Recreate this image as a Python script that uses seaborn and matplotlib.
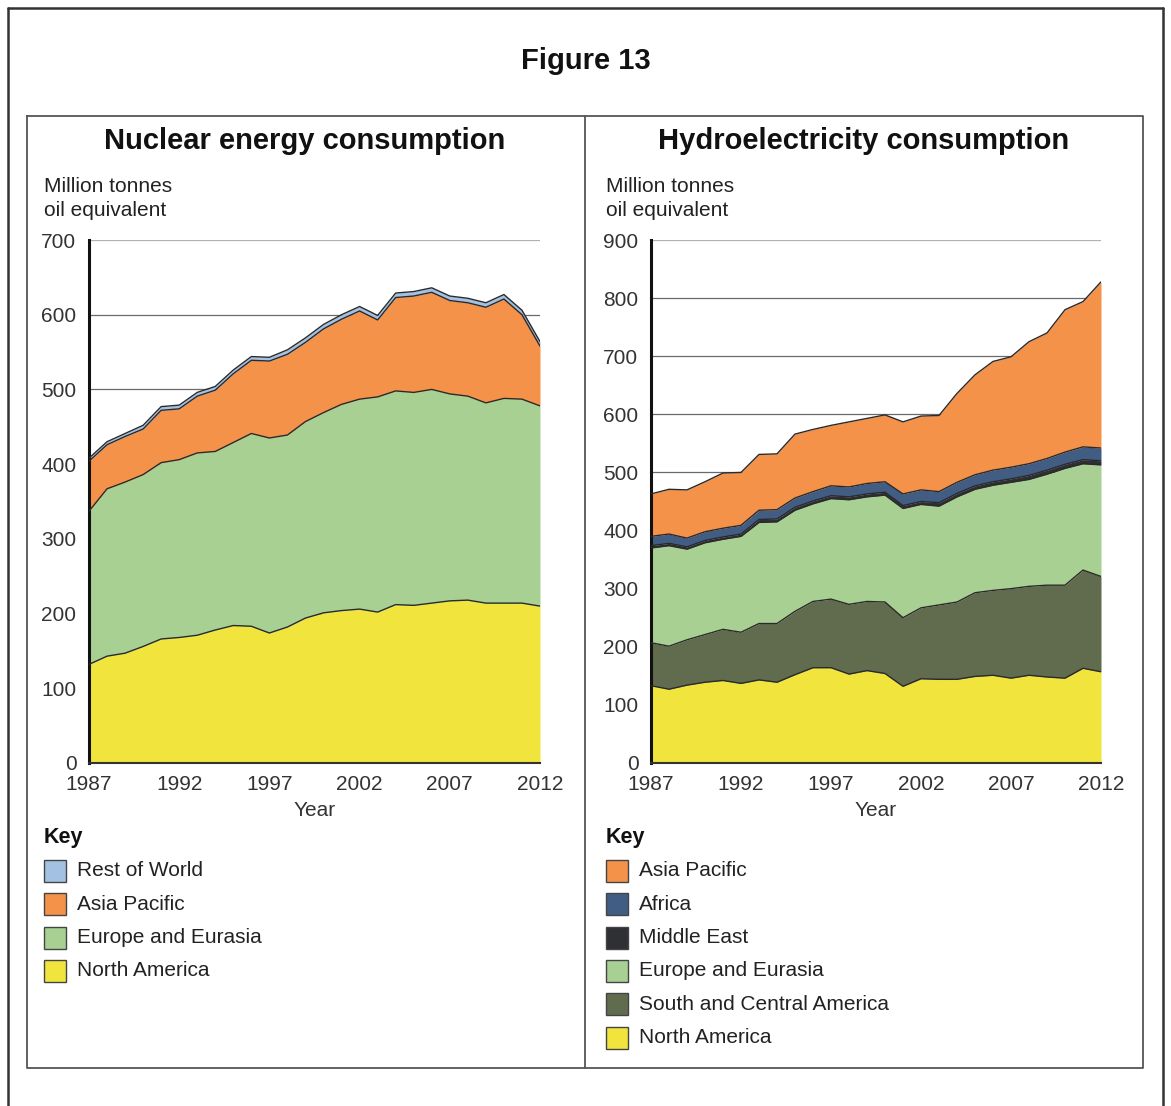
"""
Figure 13 - nuclear and hydroelectricity consumption by region, 1987-2012.
Two stacked area charts side by side, with a hand-placed key under each.
"""

import numpy as np
import pandas as pd
import matplotlib
matplotlib.use('Agg')
import matplotlib.pyplot as plt
import seaborn as sns
from matplotlib.patches import Rectangle
from matplotlib.lines import Line2D

years = list(range(1987, 2013))

# Nuclear energy consumption (million tonnes oil equivalent)
nuc_north_america = [132, 143, 147, 156, 166, 168, 171, 178, 184, 183, 174, 182, 194,
                     201, 204, 206, 202, 212, 211, 214, 217, 218, 214, 214, 214, 210]
nuc_europe_eurasia = [205, 224, 229, 230, 236, 238, 244, 239, 245, 258, 261, 257, 263,
                      268, 276, 281, 288, 286, 285, 286, 277, 273, 268, 274, 273, 268]
nuc_asia_pacific = [67, 59, 61, 61, 70, 68, 76, 82, 92, 98, 103, 108, 106,
                    112, 114, 118, 103, 125, 129, 130, 125, 125, 128, 133, 113, 80]
nuc_rest_of_world = [4, 4, 4, 5, 5, 5, 5, 5, 5, 5, 5, 6, 6,
                     6, 6, 6, 6, 6, 6, 6, 6, 6, 6, 6, 6, 6]

# Hydroelectricity consumption (million tonnes oil equivalent)
hyd_north_america = [133, 127, 134, 139, 142, 137, 143, 139, 152, 164, 164, 153, 159,
                     154, 132, 145, 144, 144, 149, 151, 146, 151, 148, 146, 163, 157]
hyd_south_central = [74, 74, 78, 82, 88, 88, 97, 101, 109, 114, 118, 120, 119,
                     123, 118, 122, 128, 133, 144, 146, 154, 153, 158, 160, 169, 164]
hyd_europe_eurasia = [163, 173, 156, 158, 155, 165, 174, 175, 174, 168, 173, 180, 180,
                      184, 188, 178, 170, 181, 178, 181, 183, 184, 191, 201, 183, 192]
hyd_middle_east = [4, 4, 4, 4, 4, 4, 5, 5, 5, 5, 5, 5, 5,
                   5, 5, 5, 6, 6, 6, 6, 6, 7, 7, 7, 7, 7]
hyd_africa = [16, 16, 15, 15, 15, 15, 16, 16, 16, 16, 17, 17, 18,
              18, 20, 20, 19, 19, 19, 20, 20, 20, 20, 21, 22, 22]
hyd_asia_pacific = [73, 77, 83, 86, 95, 91, 96, 96, 110, 107, 104, 112, 112,
                    115, 124, 127, 131, 153, 172, 187, 190, 210, 216, 245, 250, 286]

nuclear = pd.DataFrame({
    "year": years,
    "North America": nuc_north_america,
    "Europe and Eurasia": nuc_europe_eurasia,
    "Asia Pacific": nuc_asia_pacific,
    "Rest of World": nuc_rest_of_world,
})
hydro = pd.DataFrame({
    "year": years,
    "North America": hyd_north_america,
    "South and Central America": hyd_south_central,
    "Europe and Eurasia": hyd_europe_eurasia,
    "Middle East": hyd_middle_east,
    "Africa": hyd_africa,
    "Asia Pacific": hyd_asia_pacific,
})

COLORS = {
    "North America": "#F1E43D",
    "South and Central America": "#616C4E",
    "Europe and Eurasia": "#A7D092",
    "Middle East": "#2F3034",
    "Africa": "#415D84",
    "Asia Pacific": "#F4924A",
    "Rest of World": "#A3C1E3",
}

W, H = 1171, 1106
TXT = 15


def fx(px):
    return px / W


def fy(py):
    return 1 - py / H


sns.set_style("white")
plt.rcParams['font.family'] = ['Liberation Sans', 'DejaVu Sans']

fig = plt.figure(figsize=(W / 100, H / 100), dpi=100)


def stacked_panel(rect, df, order, ymax, title, title_x):
    ax = fig.add_axes(rect)
    ax.stackplot(df["year"], [df[c] for c in order],
                 colors=[COLORS[c] for c in order], linewidth=0, zorder=2)
    # dark boundary line on top of every layer
    cum = df[order].cumsum(axis=1)
    for c in order:
        sns.lineplot(x=df["year"], y=cum[c], ax=ax, color="#2a2a2a",
                     linewidth=1.0, zorder=3)
    for v in range(100, ymax + 1, 100):
        ax.axhline(v, color="#6a6a6a" if v < ymax else "#b0b0b0",
                   linewidth=0.9, zorder=1)
    ax.set_xlim(1987, 2012)
    ax.set_ylim(0, ymax)
    ax.set_xticks(range(1987, 2013, 5))
    ax.set_yticks(range(0, ymax + 1, 100))
    ax.tick_params(axis="both", direction="out", length=8, width=1,
                   color="#333333", labelsize=TXT, labelcolor="#333333", pad=1)
    ax.tick_params(axis="x", pad=1)
    for s in ("top", "right"):
        ax.spines[s].set_visible(False)
    ax.spines["left"].set_linewidth(2.2)
    ax.spines["left"].set_color("#111111")
    ax.spines["bottom"].set_linewidth(1.5)
    ax.spines["bottom"].set_color("#333333")
    ax.set_xlabel("Year", fontsize=TXT, color="#333333", labelpad=5)
    ax.set_ylabel("")
    fig.text(title_x, fy(141), title, ha="center", va="center",
             fontsize=21, fontweight="bold", color="#111111")
    return ax


stacked_panel([fx(89), fy(763), fx(540) - fx(89), fy(240) - fy(763)],
              nuclear, ["North America", "Europe and Eurasia", "Asia Pacific", "Rest of World"],
              700, "Nuclear energy consumption", fx(305))
stacked_panel([fx(651), fy(763), fx(1101) - fx(651), fy(240) - fy(763)],
              hydro, ["North America", "South and Central America", "Europe and Eurasia",
                      "Middle East", "Africa", "Asia Pacific"],
              900, "Hydroelectricity consumption", fx(864))

# unit labels
for x0 in (44, 606):
    fig.text(fx(x0), fy(187), "Million tonnes", ha="left", va="center",
             fontsize=TXT, color="#222222")
    fig.text(fx(x0), fy(211), "oil equivalent", ha="left", va="center",
             fontsize=TXT, color="#222222")


# keys
def draw_key(x0, labels):
    fig.text(fx(x0), fy(838), "Key", ha="left", va="center",
             fontsize=15.5, fontweight="bold", color="#111111")
    for i, lab in enumerate(labels):
        yc = 871 + i * 33.3
        fig.add_artist(Rectangle((fx(x0), fy(yc + 11)), 22 / W, 22 / H,
                                 transform=fig.transFigure, facecolor=COLORS[lab],
                                 edgecolor="#444444", linewidth=1.0))
        fig.text(fx(x0 + 33), fy(yc), lab, ha="left", va="center",
                 fontsize=15, color="#222222")


draw_key(44, ["Rest of World", "Asia Pacific", "Europe and Eurasia", "North America"])
draw_key(606, ["Asia Pacific", "Africa", "Middle East", "Europe and Eurasia",
               "South and Central America", "North America"])

# figure heading and frames
fig.text(0.5, fy(61), "Figure 13", ha="center", va="center",
         fontsize=21, fontweight="bold", color="#111111")


def fline(x, y, color="#333333", lw=1.5):
    fig.add_artist(Line2D([fx(a) for a in x], [fy(b) for b in y],
                          transform=fig.transFigure, color=color, linewidth=lw))


fline([8, 8], [8, 1106], lw=1.8)
fline([1163, 1163], [8, 1106], lw=1.8)
fline([8, 1163], [8, 8], lw=1.8)
fline([27, 1143, 1143, 27, 27], [116, 116, 1068, 1068, 116], color="#555555", lw=1.3)
fline([585, 585], [116, 1068], color="#555555", lw=1.3)

fig.savefig("out.png", dpi=100)
plt.close(fig)
